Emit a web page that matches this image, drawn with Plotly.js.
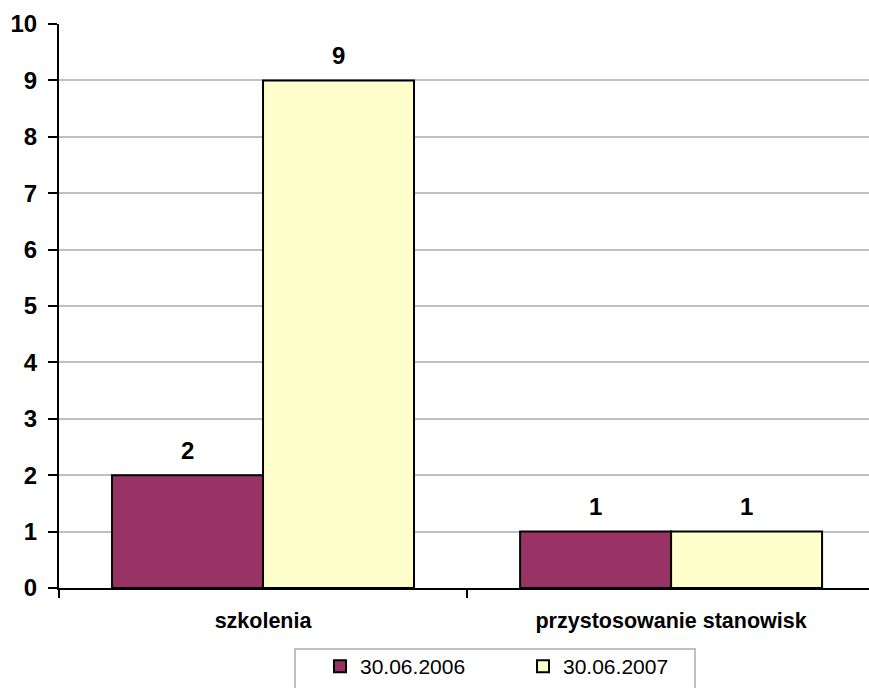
<!DOCTYPE html>
<html>
<head>
<meta charset="utf-8">
<script src="https://cdn.plot.ly/plotly-3.0.1.min.js"></script>
<style>html,body{margin:0;padding:0;background:#fff}#chart{width:869px;height:688px}</style>
</head>
<body>
<div id="chart"></div>
<script>
const categories = ["szkolenia", "przystosowanie stanowisk"];
const seriesNames = ["30.06.2006", "30.06.2007"];
const values2006 = [2, 1];
const values2007 = [9, 1];
const yTicks = [0, 1, 2, 3, 4, 5, 6, 7, 8, 9, 10];

const FONT = "Liberation Sans, Arial, sans-serif";
const colors = ["#993366", "#FFFFCC"];
const series = [values2006, values2007];
const barShift = [-75.5, 75.5];

const traces = series.map((vals, i) => ({
  type: "bar",
  name: seriesNames[i],
  x: categories,
  y: vals,
  marker: {color: colors[i], line: {color: "#000", width: 2}}
}));

const annotations = [];
series.forEach((vals, i) => {
  vals.forEach((v, j) => {
    annotations.push({
      x: categories[j], y: v, xref: "x", yref: "y",
      text: String(v), showarrow: false,
      xshift: barShift[i], yshift: 25,
      xanchor: "center", yanchor: "middle",
      font: {family: FONT, size: 24, color: "#000", weight: "bold"}
    });
  });
});

// plot area: left 59px, width 810px; bottom 588px, height 564px
const px = v => (v - 59) / 810;
const py = v => (588 - v) / 564;

const layout = {
  width: 869, height: 688,
  margin: {l: 59, r: 0, t: 24, b: 100, autoexpand: false},
  paper_bgcolor: "#fff", plot_bgcolor: "#fff",
  barmode: "group", bargap: 0.26, bargroupgap: 0,
  showlegend: true,
  font: {family: FONT, color: "#000"},
  annotations: annotations,
  shapes: [{
    type: "rect", xref: "paper", yref: "paper",
    x0: px(295), x1: px(695), y0: py(649), y1: py(700),
    line: {color: "#C0C0C0", width: 2}, fillcolor: "#fff", layer: "above"
  }],
  xaxis: {
    range: [-0.5, 1.485],
    showgrid: false, zeroline: false,
    showline: true, linecolor: "#000", linewidth: 2,
    ticks: "outside", tickson: "boundaries", ticklen: 8, tickwidth: 2, tickcolor: "#000",
    tickfont: {family: FONT, size: 21.5, color: "#000", weight: "bold"},
    ticklabelstandoff: 12
  },
  yaxis: {
    range: [0, 10],
    tickvals: yTicks, ticktext: yTicks.map(String),
    showgrid: true, gridcolor: "#C0C0C0", gridwidth: 2,
    zeroline: false,
    showline: true, linecolor: "#000", linewidth: 2,
    ticks: "outside", ticklen: 9, tickwidth: 2, tickcolor: "#000",
    tickfont: {family: FONT, size: 24, color: "#000", weight: "bold"},
    ticklabelstandoff: 6
  },
  legend: {
    orientation: "h",
    x: px(320), xanchor: "left",
    y: py(646), yanchor: "top",
    borderwidth: 0,
    bgcolor: "rgba(0,0,0,0)",
    entrywidth: 158, entrywidthmode: "pixels",
    itemwidth: 30,
    font: {family: FONT, size: 21, color: "#000"}
  }
};

Plotly.newPlot("chart", traces, layout, {displayModeBar: false, staticPlot: true});
</script>
</body>
</html>
